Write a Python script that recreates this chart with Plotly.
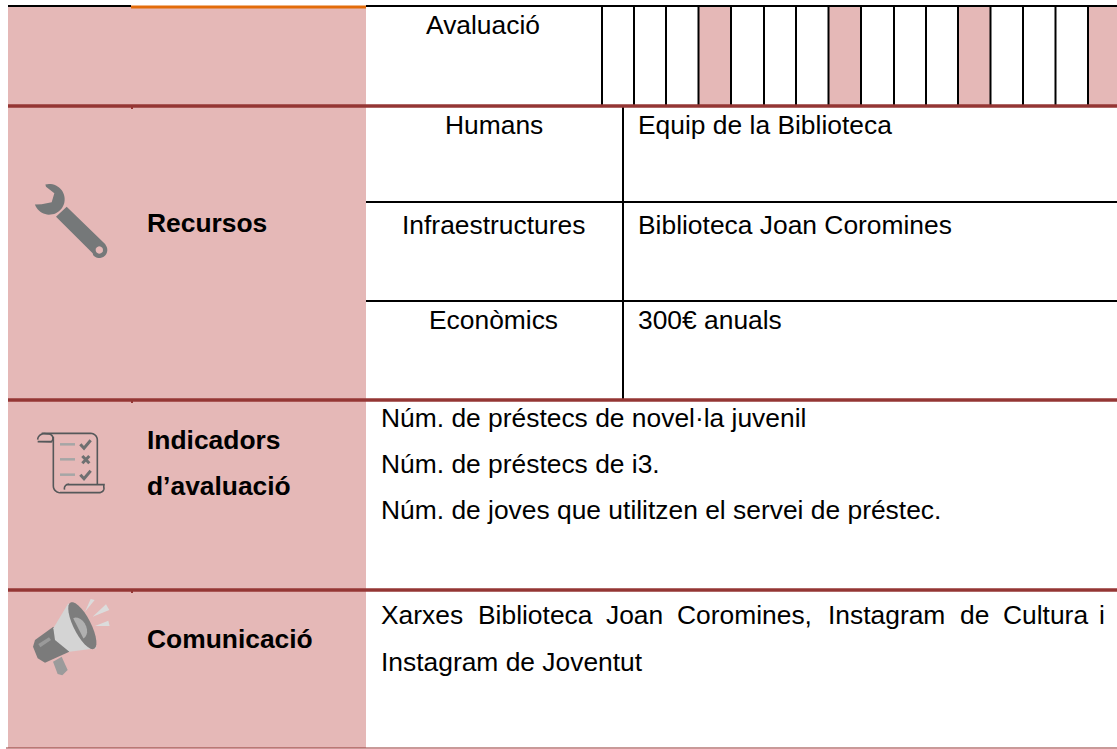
import numpy as np
import plotly.graph_objects as go

PINK = "#E5B8B7"
RED = "#943634"
GREY = "#757879"
FONT = "Liberation Sans"
SIZE = 26.4

# table text
section_labels = ["Recursos", "Indicadors", "d\u2019avaluaci\u00f3", "Comunicaci\u00f3"]
section_y = [223, 440, 486, 639]
center_labels = ["Avaluaci\u00f3", "Humans", "Infraestructures", "Econ\u00f2mics"]
center_x = [482.5, 494, 493.5, 493.5]
center_y = [25, 125, 225, 320]
resource_text = ["Equip de la Biblioteca", "Biblioteca Joan Coromines", "300\u20ac anuals"]
resource_y = [125, 225, 320]
indicator_lines = ["N\u00fam. de pr\u00e9stecs de novel\u00b7la juvenil",
                   "N\u00fam. de pr\u00e9stecs de i3.",
                   "N\u00fam. de joves que utilitzen el servei de pr\u00e9stec."]
indicator_y = [418, 464, 510]
comm_words = ["Xarxes", "Biblioteca", "Joan", "Coromines,", "Instagram", "de", "Cultura", "i"]
comm_word_x = [379, 476, 604, 675, 826, 958, 1001, 1097]
comm_line2 = "Instagram de Joventut"

# calendar grid
grid_lines = [602, 634, 666, 698.5, 731, 764, 796, 828.5, 861, 894, 926, 958, 990.5, 1023, 1055.5, 1088]
shaded_columns = [(698.5, 731), (828.5, 861), (958, 990.5), (1088, 1117)]
row_rules = [106, 400, 590]
inner_rules = [202, 301]

shapes, ann = [], []

def rect(x0, y0, x1, y1, color):
    shapes.append(dict(type="rect", x0=x0, y0=y0, x1=x1, y1=y1, fillcolor=color,
                       line=dict(width=0), layer="below"))

def line(x0, y0, x1, y1, color, w):
    shapes.append(dict(type="line", x0=x0, y0=y0, x1=x1, y1=y1, line=dict(color=color, width=w)))

def poly(pts, fill=None, stroke=None, w=1, ox=0, oy=0, closed=True):
    d = "M " + " L ".join(f"{ox + x / 3:.2f},{oy + y / 3:.2f}" for x, y in pts) + (" Z" if closed else "")
    shapes.append(dict(type="path", path=d, fillcolor=fill if fill else "rgba(0,0,0,0)",
                       line=dict(color=stroke if stroke else "rgba(0,0,0,0)", width=w if stroke else 0)))

def arc(cx, cy, rx, ry, a0, a1, n=24, rot=0):
    t = np.radians(np.linspace(a0, a1, n))
    x, y = rx * np.cos(t), ry * np.sin(t)
    r = np.radians(rot)
    return list(zip(cx + x * np.cos(r) - y * np.sin(r), cy + x * np.sin(r) + y * np.cos(r)))

def text(s, x, y, anchor="left", bold=False):
    ann.append(dict(text=f"<b>{s}</b>" if bold else s, x=x, y=y, xanchor=anchor, yanchor="middle",
                    showarrow=False, xref="x", yref="y", align=anchor,
                    font=dict(family=FONT, size=SIZE, color="#000000")))

# backgrounds
rect(8, 6, 366, 748, PINK)
for x0, x1 in shaded_columns:
    rect(x0, 7, x1, 106, PINK)

# rules
for x in grid_lines:
    line(x, 6, x, 105, "#000000", 2)
line(623, 106, 623, 400, "#000000", 2)
for y in inner_rules:
    line(366, y, 1117, y, "#000000", 2)
line(8, 6, 131, 6, "#000000", 2)
line(366, 6, 1117, 6, "#000000", 2)
line(131, 7, 366, 7, "#E36C0A", 3)
for y in row_rules:
    line(8, y, 1117, y, RED, 3.5)
    line(132, y, 132, y + 3, RED, 2)
line(6, 748, 1117, 748, RED, 1.2)

# wrench
ox, oy = 20, 165
head = arc(88, 103, 46, 46, -105, 160, 40)
notch = [(65, 118), (95, 112), (103, 85), (78, 65)]
poly(head + notch, GREY, ox=ox, oy=oy)
handle = [(108, 155), (140, 125), (256, 238)] + arc(238, 255, 24, 24, -40, 140, 14) + [(218, 265)]
poly(handle, GREY, ox=ox, oy=oy)
poly(arc(238, 255, 11, 11, 0, 360, 20), PINK, ox=ox, oy=oy)

# scroll
ox, oy = 25, 425
S = "#55585A"
poly([(50, 25), (195, 25)] + arc(197, 45, 20, 20, -90, 0, 8) + [(217, 178)], None, S, 1.6, ox, oy, closed=False)
poly(arc(58, 44, 20, 18, 180, 270, 8) + [(70, 27)] + arc(68, 40, 16, 14, -70, 50, 8) + [(38, 50), (82, 50)],
     None, S, 1.6, ox, oy, closed=False)
poly([(85, 35), (85, 180)] + arc(105, 183, 20, 20, 180, 90, 8) + [(225, 203)] + arc(225, 190, 12, 12, 60, -20, 6) + [(237, 179), (130, 179)] +
     arc(130, 190, 12, 12, -90, -200, 6), None, S, 1.6, ox, oy, closed=False)
for y in [58, 103, 149]:
    line(ox + 105 / 3, oy + y / 3, ox + 150 / 3, oy + y / 3, "#A5A6A6", 2.5)
for y in [58, 149]:
    poly([(166, y), (177, y + 12), (197, y - 12)], None, "#6E7071", 3, ox, oy, closed=False)
line(ox + 172 / 3, oy + 93 / 3, ox + 193 / 3, oy + 115 / 3, "#6E7071", 3)
line(ox + 193 / 3, oy + 93 / 3, ox + 172 / 3, oy + 115 / 3, "#6E7071", 3)

# megaphone
ox, oy = 25, 590
poly([(84, 215), (110, 200), (128, 240), (112, 256), (98, 252)], "#9B9B9B", ox=ox, oy=oy)
poly([(85, 110), (133, 185), (60, 218), (38, 205), (24, 170), (30, 150)], "#7B7B7B", ox=ox, oy=oy)
poly([(40, 162), (72, 142), (78, 150), (46, 172)], "#9A9A9A", ox=ox, oy=oy)
poly([(130, 40), (85, 115), (90, 150), (133, 185), (215, 175)], "#D4D4D4", ox=ox, oy=oy)
poly(arc(172, 107, 26, 78, 0, 360, 30, rot=-27), "#7D7D7D", ox=ox, oy=oy)
poly(arc(160, 115, 24, 34, -90, 90, 12, rot=-27), "#B0B0B0", ox=ox, oy=oy)
poly([(180, 65), (197, 27), (209, 30)], "#DCDCDC", ox=ox, oy=oy)
poly([(203, 80), (243, 43), (253, 60)], "#DCDCDC", ox=ox, oy=oy)
poly([(210, 108), (250, 92), (254, 108)], "#DCDCDC", ox=ox, oy=oy)

# text
for s, y in zip(section_labels, section_y):
    text(s, 145, y, bold=True)
for s, x, y in zip(center_labels, center_x, center_y):
    text(s, x, y, "center")
for s, y in zip(resource_text, resource_y):
    text(s, 636, y)
for s, y in zip(indicator_lines, indicator_y):
    text(s, 378.5, y)
for s, x in zip(comm_words, comm_word_x):
    text(s, x, 615)
text(comm_line2, 378.5, 662)

fig = go.Figure()
fig.add_trace(go.Scatter(x=[0, 1117], y=[0, 749], mode="markers", marker=dict(opacity=0), hoverinfo="skip", showlegend=False))
fig.update_layout(
    width=1117, height=749, margin=dict(l=0, r=0, t=0, b=0),
    paper_bgcolor="#FFFFFF", plot_bgcolor="#FFFFFF", showlegend=False,
    xaxis=dict(range=[0, 1117], visible=False, fixedrange=True),
    yaxis=dict(range=[749, 0], visible=False, fixedrange=True),
    shapes=shapes, annotations=ann,
)
fig.write_html("out.html", config=dict(displayModeBar=False),
               post_script="document.body.style.margin='0';document.body.style.overflow='hidden';")
